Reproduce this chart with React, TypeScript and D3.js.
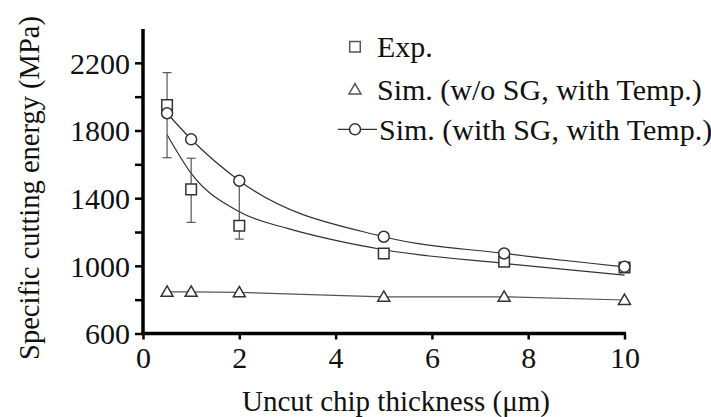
import React, { useRef, useEffect } from 'react';
import * as d3 from 'd3';

// values
const thickness = [0.5, 1, 2, 5, 7.5, 10];
const expEnergy = [1951, 1452, 1237, 1073, 1024, 990];
const simNoSG = [846, 846, 843, 817, 817, 798];
const simSG = [1902, 1748, 1503, 1172, 1073, 994];

// error bars (only visible on first three experimental points)
const errThickness = [0.5, 1, 2];
const errHigh = [2142, 1636, 1500];
const errLow = [1639, 1257, 1158];

// fitted trend through experimental data
const fitThickness = [0.5, 1, 2, 3, 4, 5, 7.5, 10];
const fitEnergy = [1775, 1547, 1320, 1221, 1150, 1095, 1014, 945];

const xTicks = [0, 2, 4, 6, 8, 10];
const yTicks = [600, 800, 1000, 1200, 1400, 1600, 1800, 2000, 2200];
const yLabels = [600, 1000, 1400, 1800, 2200];

const legendLabels = ['Exp.', 'Sim. (w/o SG, with Temp.)', 'Sim. (with SG, with Temp.)'];

const FONT = "'Liberation Serif', 'DejaVu Serif', serif";

const App = () => {
  const svgRef = useRef<SVGSVGElement>(null);

  useEffect(() => {
    const width = 711;
    const height = 417;
    const svg = d3.select(svgRef.current)
      .attr('width', width)
      .attr('height', height);
    svg.selectAll('*').remove();

    const x = d3.scaleLinear().domain([0, 10]).range([143, 624.5]);
    const y = d3.scaleLinear().domain([600, 2400]).range([333.5, 29]);

    const ink = '#333';

    // Y axis
    const yAxis = svg.append('g')
      .attr('transform', `translate(${x(0)},0)`)
      .call(d3.axisLeft(y).tickValues(yTicks).tickSize(8).tickFormat(d => (yLabels.includes(+d) ? String(d) : '')).tickPadding(5));
    yAxis.attr('font-family', null).attr('font-size', null);
    yAxis.select('.domain').attr('d', `M0,${y(2400)}V${y(600) + 1.5}`).attr('stroke', '#000').attr('stroke-width', 3.5);
    yAxis.selectAll('.tick line').attr('stroke', '#000').attr('stroke-width', 2.5);
    yAxis.selectAll('.tick text')
      .style('font-family', FONT).style('font-size', '30px').attr('fill', '#111').attr('dy', '0.34em');

    // X axis
    const xAxis = svg.append('g')
      .attr('transform', `translate(0,${y(600)})`)
      .call(d3.axisBottom(x).tickValues(xTicks).tickSize(6).tickPadding(4));
    xAxis.attr('font-family', null).attr('font-size', null);
    xAxis.select('.domain').attr('d', `M${x(0) - 1.5},0H${x(10) + 1.5}`).attr('stroke', '#000').attr('stroke-width', 3.5);
    xAxis.selectAll('.tick line').attr('stroke', '#000').attr('stroke-width', 2.5);
    xAxis.selectAll('.tick text')
      .style('font-family', FONT).style('font-size', '30px').attr('fill', '#111').attr('dy', '0.82em');

    // Axis titles
    svg.append('text')
      .attr('x', 396).attr('y', 411)
      .attr('text-anchor', 'middle')
      .style('font-family', FONT).style('font-size', '29px').attr('fill', '#111')
      .text('Uncut chip thickness (μm)');

    svg.append('text')
      .attr('transform', 'translate(39,188) rotate(-90)')
      .attr('text-anchor', 'middle')
      .style('font-family', FONT).style('font-size', '28.5px').attr('fill', '#111')
      .text('Specific cutting energy (MPa)');

    const pts = (ys: number[], xs: number[] = thickness) => xs.map((t, i) => [t, ys[i]] as [number, number]);

    // Lines
    const straight = d3.line<[number, number]>().x(d => x(d[0])).y(d => y(d[1]));
    const smooth = d3.line<[number, number]>().x(d => x(d[0])).y(d => y(d[1])).curve(d3.curveMonotoneX);

    svg.append('path').attr('d', straight(pts(simNoSG)))
      .attr('fill', 'none').attr('stroke', '#555').attr('stroke-width', 1.2);
    svg.append('path').attr('d', smooth(pts(fitEnergy, fitThickness)))
      .attr('fill', 'none').attr('stroke', '#333').attr('stroke-width', 1.2);
    svg.append('path').attr('d', smooth(pts(simSG)))
      .attr('fill', 'none').attr('stroke', '#333').attr('stroke-width', 1.2);

    // Error bars
    const eb = svg.append('g').attr('stroke', '#555').attr('stroke-width', 1.2);
    errThickness.forEach((t, i) => {
      eb.append('line').attr('x1', x(t)).attr('x2', x(t)).attr('y1', y(errHigh[i])).attr('y2', y(errLow[i]));
      eb.append('line').attr('x1', x(t) - 4.5).attr('x2', x(t) + 4.5).attr('y1', y(errHigh[i])).attr('y2', y(errHigh[i]));
      eb.append('line').attr('x1', x(t) - 4.5).attr('x2', x(t) + 4.5).attr('y1', y(errLow[i])).attr('y2', y(errLow[i]));
    });

    const squarePath = d3.symbol(d3.symbolSquare, 112)();
    const triPath = d3.symbol(d3.symbolTriangle, 62)();

    // Markers
    svg.append('g').selectAll('path')
      .data(pts(simNoSG)).enter().append('path')
      .attr('d', triPath)
      .attr('transform', d => `translate(${x(d[0])},${y(d[1]) + 1})`)
      .attr('fill', '#fff').attr('stroke', ink).attr('stroke-width', 1.5);

    svg.append('g').selectAll('path')
      .data(pts(expEnergy)).enter().append('path')
      .attr('d', squarePath)
      .attr('transform', d => `translate(${x(d[0])},${y(d[1])})`)
      .attr('fill', '#fff').attr('stroke', ink).attr('stroke-width', 1.5);

    svg.append('g').selectAll('circle')
      .data(pts(simSG)).enter().append('circle')
      .attr('cx', d => x(d[0])).attr('cy', d => y(d[1])).attr('r', 5.5)
      .attr('fill', '#fff').attr('stroke', ink).attr('stroke-width', 1.5);

    // Legend
    const lx = 355;
    const rows = [46.7, 89.5, 129.3];
    const leg = svg.append('g');
    leg.append('path').attr('d', squarePath).attr('transform', `translate(${lx},${rows[0]})`)
      .attr('fill', '#fff').attr('stroke', '#555').attr('stroke-width', 1.5);
    leg.append('path').attr('d', triPath).attr('transform', `translate(${lx},${rows[1] + 1})`)
      .attr('fill', '#fff').attr('stroke', '#555').attr('stroke-width', 1.5);
    leg.append('line').attr('x1', 338).attr('x2', 377).attr('y1', rows[2]).attr('y2', rows[2])
      .attr('stroke', '#333').attr('stroke-width', 1.2);
    leg.append('circle').attr('cx', lx).attr('cy', rows[2]).attr('r', 5.5)
      .attr('fill', '#fff').attr('stroke', ink).attr('stroke-width', 1.5);
    legendLabels.forEach((label, i) => {
      leg.append('text')
        .attr('x', i === 2 ? 379 : 377).attr('y', rows[i] + 10.5)
        .style('font-family', FONT).style('font-size', '30px').attr('fill', '#111')
        .text(label);
    });
  }, []);

  return <svg ref={svgRef} style={{ position: 'absolute', left: 0, top: 0, background: '#fff' }}></svg>;
};

export default App;
